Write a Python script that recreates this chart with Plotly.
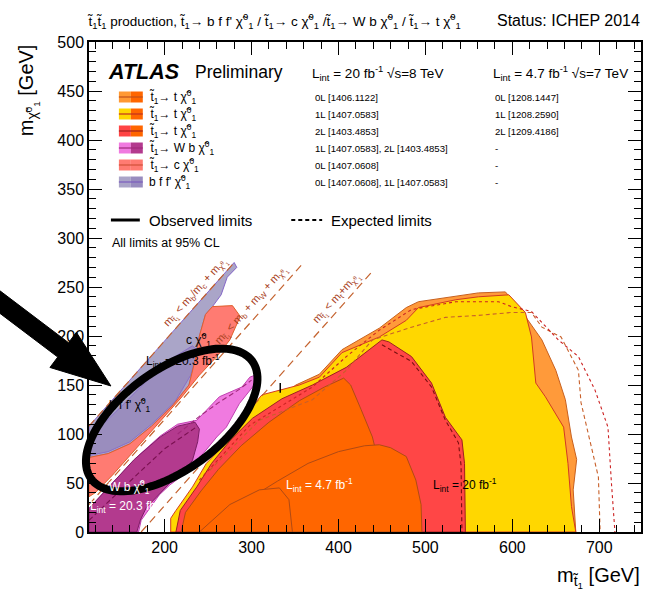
import math
import plotly.graph_objects as go

W, H = 649, 592
ML, MR, MT, MB = 89, 6, 42, 60
FONT = "Liberation Sans, Arial, Helvetica, sans-serif"

X_RANGE = [113, 748]
Y_RANGE = [0, 500]

# ---- kinematic boundaries (GeV)
kin_bc_x, kin_bc_y = [113, 280], [108, 275]      # m_stop = m_b/m_c + m_LSP
kin_bw_x, kin_bw_y = [113, 357], [28, 272]       # m_stop = m_b + m_W + m_LSP
kin_t_x, kin_t_y = [173, 438], [0, 265]          # m_stop = m_t + m_LSP

# ---- stop -> t LSP, 8 TeV observed
zero_l_x = [240, 257, 298, 351, 378, 404, 447, 478, 492, 535, 561, 592, 611, 634, 650, 661, 668, 674, 670, 673]
zero_l_y = [0, 63, 114, 150, 161, 186, 208, 229, 235, 241, 244, 245, 225, 196, 165, 135, 97, 74, 43, 0]
one_l_x = [207, 207, 213, 232, 248, 263, 278, 294, 312, 332, 355, 378, 404, 447, 478, 492, 535, 561, 596, 615,
           622, 627, 638, 659, 664, 668, 673]
one_l_y = [0, 14, 22, 46, 70, 84, 101, 121, 140, 145, 150, 158, 183, 199, 216, 229, 237, 240, 242, 224,
           199, 152, 138, 107, 70, 26, 0]
two_l_x = [213, 218, 237, 254, 276, 301, 335, 370, 409, 450, 458, 484, 507, 523, 542, 545, 546]
two_l_y = [0, 22, 46, 70, 94, 116, 136, 150, 168, 196, 194, 179, 152, 117, 94, 70, 0]

# ---- stop -> t LSP, 7 TeV observed
zero_l7_x = [219, 224, 242, 262, 288, 320, 355, 384, 406, 414, 426, 439, 447, 450, 452]
zero_l7_y = [0, 20, 42, 64, 88, 112, 134, 148, 157, 150, 125, 97, 68, 36, 0]
one_l7_x = [262, 290, 330, 365, 400, 430, 447, 460, 478, 489, 495, 496]
one_l7_y = [0, 30, 52, 70, 82, 88, 89, 86, 77, 53, 28, 0]
two_l7_x = [240, 275, 309, 332, 343, 347]
two_l7_y = [0, 28, 43, 45, 33, 0]

# ---- 8 TeV expected
exp_one_l_x = [240, 298, 370, 409, 447, 484, 535, 584, 599, 622, 653, 676, 695, 710, 714, 718]
exp_one_l_y = [53, 109, 148, 179, 206, 227, 235, 235, 230, 225, 196, 179, 145, 107, 50, 0]
exp_zero_l_x = [252, 309, 370, 409, 439, 484, 523, 561, 599, 622, 634, 656, 676, 679, 699, 701]
exp_zero_l_y = [63, 114, 135, 165, 196, 209, 219, 221, 224, 224, 209, 199, 165, 132, 56, 0]
exp_two_l_x = [450, 484, 507, 523, 538, 541, 542]
exp_two_l_y = [191, 174, 148, 114, 91, 68, 0]

# ---- stop -> b f f' LSP and stop -> c LSP
bfff_x = [113, 113, 280, 283, 272, 265, 255, 247, 240, 235, 228, 210, 185, 160, 135]
bfff_y = [76, 108, 275, 270, 260, 242, 230, 222, 200, 175, 150, 130, 108, 90, 80]
bfff_in_x = [113, 113, 150, 180, 210, 232, 238, 230, 212, 185, 160, 135]
bfff_in_y = [78, 96, 128, 155, 178, 190, 185, 160, 133, 110, 92, 82]
charm_x = [113, 113, 135, 160, 185, 210, 228, 235, 240, 247, 255, 278, 287, 275, 260, 240, 220, 200, 180, 160, 140, 120]
charm_y = [36, 76, 80, 90, 108, 130, 150, 175, 200, 222, 230, 231, 220, 196, 179, 160, 138, 118, 98, 78, 58, 40]

# ---- stop -> W b LSP
wb_x = [113, 113, 140, 170, 195, 215, 237, 248, 263, 289, 298, 307, 303, 286, 271, 260, 248, 235, 221, 206, 194, 183, 173, 170]
wb_y = [0, 24, 50, 78, 98, 110, 114, 124, 138, 148, 158, 161, 150, 131, 107, 97, 84, 70, 58, 48, 38, 25, 12, 0]
wb2_x = [113, 113, 140, 165, 195, 215, 235, 240, 238, 232, 220, 206, 190, 179, 172, 168]
wb2_y = [0, 24, 50, 74, 97, 108, 112, 105, 92, 73, 60, 50, 35, 25, 12, 0]
exp_wb_x = [113, 140, 170, 200, 225, 238]
exp_wb_y = [12, 35, 60, 85, 100, 108]
exp_wb2_x = [215, 240, 262, 285, 300]
exp_wb2_y = [100, 118, 132, 145, 155]

# ---- legend table
T1 = "t\u0303<sub>1</sub>"
CHI = "\u03c7\u0303<sup>0</sup><sub>1</sub>"
leg_labels = [f"{T1}\u2192 t {CHI}", f"{T1}\u2192 t {CHI}", f"{T1}\u2192 t {CHI}",
              f"{T1}\u2192 W b {CHI}", f"{T1}\u2192 c {CHI}", f"b f f' {CHI}"]
leg_light = ["#ff9933", "#ffd700", "#ff4444", "#f07ae0", "#ff7b72", "#aaa4c8"]
leg_dark = ["#ff6600", "#ff6600", "#ff6600", "#b33a8e", "#ff7b72", "#988cbf"]
leg_line = ["#c0501a", "#c03020", "#a02020", "#a0287a", "#d0503a", "#7a5cbf"]
refs_8tev = ["0L [1406.1122]", "1L [1407.0583]", "2L [1403.4853]",
             "1L [1407.0583], 2L [1403.4853]", "0L [1407.0608]", "0L [1407.0608], 1L [1407.0583]"]
refs_7tev = ["0L [1208.1447]", "1L [1208.2590]", "2L [1209.4186]", "-", "-", "-"]


def fx(p):
    return (p - ML) / (W - ML - MR)


def fy(p):
    return (H - MB - p) / (H - MT - MB)


fig = go.Figure()


def poly(xs, ys, fill, line, width=1.0):
    fig.add_trace(go.Scatter(x=xs + xs[:1], y=ys + ys[:1], mode="lines", fill="toself",
                             fillcolor=fill, line=dict(color=line, width=width),
                             hoverinfo="skip", showlegend=False))


def curve(xs, ys, color, dash="dash", width=1.1):
    fig.add_trace(go.Scatter(x=xs, y=ys, mode="lines",
                             line=dict(color=color, width=width, dash=dash),
                             hoverinfo="skip", showlegend=False))


# stop -> t
poly(zero_l_x, zero_l_y, "#ff9a3a", "#c8601e")
poly(one_l_x, one_l_y, "#ffd700", "#d23a22")
poly(two_l_x, two_l_y, "#ff4646", "#9e2020")
poly(zero_l7_x, zero_l7_y, "#ff6600", "#b04a14")
poly(one_l7_x, one_l7_y, "#ff6600", "#b04a14")
poly(two_l7_x, two_l7_y, "#ff6600", "#b04a14")
curve(exp_zero_l_x, exp_zero_l_y, "#c8602a", "4px,3px")
curve(exp_one_l_x, exp_one_l_y, "#cc2222", "3px,3px")
curve(exp_two_l_x, exp_two_l_y, "#7a1010", "4px,3px")

# compressed region
poly(bfff_x, bfff_y, "#aaa5c8", "#8466c8")
poly(bfff_in_x, bfff_in_y, "#9a8dbe", "#8466c8", 0.8)
poly(charm_x, charm_y, "#ff7b72", "#e0602a")
poly(wb_x, wb_y, "#f07ae0", "#c040b0")
poly(wb2_x, wb2_y, "#b33a8e", "#7e1d66")
curve(exp_wb_x, exp_wb_y, "#7a1050", "5px,3px")
curve(exp_wb2_x, exp_wb2_y, "#a0287a", "5px,3px")

# kinematic limits
for kx, ky in [(kin_bc_x, kin_bc_y), (kin_bw_x, kin_bw_y), (kin_t_x, kin_t_y)]:
    curve(kx, ky, "#c4622e", "8px,5px", 1.2)

ann = []
KIN_COLOR = "#a8401c"
ann.append(dict(x=236, y=244, xref="x", yref="y", showarrow=False, textangle=-48,
                text=f"m<sub>{T1}</sub> < m<sub>b</sub>/m<sub>c</sub> + m<sub>{CHI}</sub>",
                font=dict(size=11, color=KIN_COLOR, family=FONT)))
ann.append(dict(x=300, y=231, xref="x", yref="y", showarrow=False, textangle=-48,
                text=f"m<sub>{T1}</sub> < m<sub>b</sub> + m<sub>W</sub> + m<sub>{CHI}</sub>",
                font=dict(size=11, color=KIN_COLOR, family=FONT)))
ann.append(dict(x=398, y=238, xref="x", yref="y", showarrow=False, textangle=-48,
                text=f"m<sub>{T1}</sub> < m<sub>t</sub>+m<sub>{CHI}</sub>",
                font=dict(size=11, color=KIN_COLOR, family=FONT)))

# labels inside the plot
LINT = "L<sub>int</sub>"
for x, y, t, c in [(160, 130, f"b f f' {CHI}", "black"),
                   (221, 174, f"{LINT} = 20.3 fb<sup>-1</sup>", "black"),
                   (239, 196, f"c {CHI}", "black"),
                   (160, 46, f"W b {CHI}", "white"),
                   (157, 27, f"{LINT} = 20.3 fb<sup>-1</sup>", "white"),
                   (378, 48, f"{LINT} = 4.7 fb<sup>-1</sup>", "white"),
                   (545, 48, f"{LINT} = 20 fb<sup>-1</sup>", "black")]:
    ann.append(dict(x=x, y=y, xref="x", yref="y", showarrow=False, text=t,
                    font=dict(size=12, color=c, family=FONT)))


def ptext(px_, py_, text, size, anchor="left", **kw):
    f = dict(size=size, color="black", family=FONT)
    f.update(kw.pop("font", {}))
    d = dict(x=fx(px_), y=fy(py_), xref="paper", yref="paper", text=text, showarrow=False,
             xanchor=anchor, yanchor="middle", font=f)
    d.update(kw)
    ann.append(d)


# header
ptext(85, 21, f"{T1}{T1} production, {T1}\u2192 b f f' {CHI} / {T1}\u2192 c {CHI} /{T1}\u2192 W b {CHI} / {T1}\u2192 t {CHI}", 13.5)
ptext(644, 21, "Status: ICHEP 2014", 16, anchor="right")

# ATLAS label and legend table
ptext(106, 72, "<b><i>ATLAS</i></b>", 21.5)
ptext(193, 72, "Preliminary", 17.5)
ptext(311, 73, "L<sub>int</sub> = 20 fb<sup>-1</sup> \u221as=8 TeV", 13.5)
ptext(492, 73, "L<sub>int</sub> = 4.7 fb<sup>-1</sup> \u221as=7 TeV", 13.5)

shapes = []
rows = [97, 114, 131, 148, 165, 182]
for r, lab, cl, cd, clin, r8, r7 in zip(rows, leg_labels, leg_light, leg_dark, leg_line, refs_8tev, refs_7tev):
    shapes.append(dict(type="rect", xref="paper", yref="paper", x0=fx(119), x1=fx(131),
                       y0=fy(r + 5.5), y1=fy(r - 5.5), fillcolor=cl, line=dict(width=0)))
    shapes.append(dict(type="rect", xref="paper", yref="paper", x0=fx(131), x1=fx(143),
                       y0=fy(r + 5.5), y1=fy(r - 5.5), fillcolor=cd, line=dict(width=0)))
    shapes.append(dict(type="line", xref="paper", yref="paper", x0=fx(119), x1=fx(143),
                       y0=fy(r), y1=fy(r), line=dict(color=clin, width=1.2)))
    ptext(147, r, lab, 12)
    ptext(314, r, r8, 9.6)
    ptext(494, r, r7, 9.6)

# observed / expected key
shapes.append(dict(type="line", xref="paper", yref="paper", x0=fx(111), x1=fx(140),
                   y0=fy(220), y1=fy(220), line=dict(color="black", width=3)))
ptext(147, 220, "Observed limits", 15)
shapes.append(dict(type="line", xref="paper", yref="paper", x0=fx(292), x1=fx(323),
                   y0=fy(220), y1=fy(220), line=dict(color="black", width=2, dash="4px,3px")))
ptext(330, 220, "Expected limits", 15)
ptext(110, 243, "All limits at 95% CL", 12.5)

# axis titles
ann.append(dict(x=fx(28), y=fy(42), xref="paper", yref="paper", showarrow=False, textangle=-90,
                xanchor="center", yanchor="top",
                text=f"m<sub>{CHI}</sub> [GeV]", font=dict(size=20, color="black", family=FONT)))
ptext(644, 577, f"m<sub>{T1}</sub> [GeV]", 20, anchor="right")

# stray tick mark inside the frame
shapes.append(dict(type="line", xref="x", yref="y", x0=333, x1=333, y0=142, y1=152,
                   line=dict(color="black", width=1.5)))

# highlight: ellipse around the compressed region
cx, cy, a, b, phi = 172, 420, 100, 50, math.radians(36)
pts = []
for i in range(121):
    t = 2 * math.pi * i / 120
    ex = cx + a * math.cos(t) * math.cos(phi) + b * math.sin(t) * math.sin(phi)
    ey = cy - a * math.cos(t) * math.sin(phi) + b * math.sin(t) * math.cos(phi)
    pts.append(f"{fx(ex):.5f},{fy(ey):.5f}")
shapes.append(dict(type="path", xref="paper", yref="paper", path="M " + " L ".join(pts) + " Z",
                   line=dict(color="black", width=8), fillcolor="rgba(0,0,0,0)", layer="above"))

# highlight: arrow pointing at it
tip = (111, 386)
d = (0.799, 0.602)
n = (-0.602, 0.799)
head_len, head_hw, shaft_hw, shaft_len = 60, 22, 9, 130
bc = (tip[0] - head_len * d[0], tip[1] - head_len * d[1])
st = (bc[0] - shaft_len * d[0], bc[1] - shaft_len * d[1])
arrow_pts = [tip,
             (bc[0] + head_hw * n[0], bc[1] + head_hw * n[1]),
             (bc[0] + shaft_hw * n[0], bc[1] + shaft_hw * n[1]),
             (st[0] + shaft_hw * n[0], st[1] + shaft_hw * n[1]),
             (st[0] - shaft_hw * n[0], st[1] - shaft_hw * n[1]),
             (bc[0] - shaft_hw * n[0], bc[1] - shaft_hw * n[1]),
             (bc[0] - head_hw * n[0], bc[1] - head_hw * n[1])]
shapes.append(dict(type="path", xref="paper", yref="paper",
                   path="M " + " L ".join(f"{fx(p[0]):.5f},{fy(p[1]):.5f}" for p in arrow_pts) + " Z",
                   fillcolor="black", line=dict(color="black", width=1), layer="above"))

axis_common = dict(ticks="inside", ticklen=13, tickwidth=1.2, tickcolor="black", showline=True,
                   linecolor="black", linewidth=1.5, mirror="allticks", showgrid=False, zeroline=False,
                   tickfont=dict(size=16, family=FONT, color="black"))
fig.update_xaxes(range=X_RANGE, tick0=0, dtick=100,
                 minor=dict(tick0=0, dtick=20, ticks="inside", ticklen=7, tickcolor="black", tickwidth=1),
                 **axis_common)
fig.update_yaxes(range=Y_RANGE, tick0=0, dtick=50,
                 minor=dict(tick0=0, dtick=10, ticks="inside", ticklen=7, tickcolor="black", tickwidth=1),
                 **axis_common)

fig.update_layout(width=W, height=H, margin=dict(l=ML, r=MR, t=MT, b=MB),
                  plot_bgcolor="white", paper_bgcolor="white", showlegend=False,
                  annotations=ann, shapes=shapes, font=dict(family=FONT))

fig.write_html("out.html")
